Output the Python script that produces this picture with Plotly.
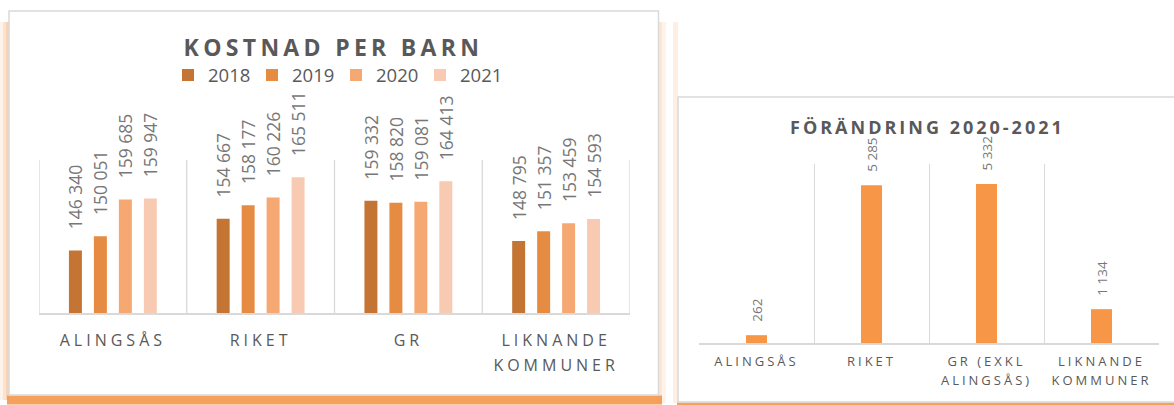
import plotly.graph_objects as go

# ---------------- data ----------------
categories = ["ALINGSÅS", "RIKET", "GR", "LIKNANDE<br>KOMMUNER"]
years = ["2018", "2019", "2020", "2021"]
v2018 = [146340, 154667, 159332, 148795]
v2019 = [150051, 158177, 158820, 151357]
v2020 = [159685, 160226, 159081, 153459]
v2021 = [159947, 165511, 164413, 154593]
series = [v2018, v2019, v2020, v2021]

change_categories = ["ALINGSÅS", "RIKET", "GR (EXKL<br>ALINGSÅS)", "LIKNANDE<br>KOMMUNER"]
change_values = [262, 5285, 5332, 1134]

title_left = "KOSTNAD PER BARN"
title_right = "FÖRÄNDRING 2020-2021"

# ---------------- styles ----------------
W, H = 1174, 405
colors = ["#C47534", "#E68C42", "#F6A873", "#F8CAB1"]
change_color = "#F79646"
grid_col = "#D9D9D9"
txt_dark = "#595959"
txt_label = "#777777"
FONT = "Open Sans"
NB = "\u00a0"


def px(x):
    return x / W


def py(y):
    return 1 - y / H


fig = go.Figure()

for name, vals, col in zip(years, series, colors):
    fig.add_trace(go.Bar(
        x=categories, y=vals, name=name,
        marker=dict(color=col, line=dict(width=0)),
        texttemplate=NB * 4 + "%{y:,}", textposition="outside", textangle=-90,
        constraintext="none", cliponaxis=True,
        textfont=dict(family=FONT, size=17.5, color=txt_label),
        xaxis="x", yaxis="y", hoverinfo="x+y+name",
    ))

fig.add_trace(go.Bar(
    x=change_categories, y=change_values, name="Förändring",
    marker=dict(color=change_color, line=dict(width=0)),
    width=0.183, offset=-0.0915,
    texttemplate=NB * 3 + "%{y:,}", textposition="outside", textangle=-90,
    constraintext="none", cliponaxis=False,
    textfont=dict(family=FONT, size=13.5, color=txt_label),
    xaxis="x2", yaxis="y2", showlegend=False,
))

# ---------------- shapes: panels, glow, gridlines ----------------
shapes = []
glow = "245,155,85"
# left panel glow
shapes.append(dict(type="rect", xref="paper", yref="paper", x0=px(7), x1=px(662), y0=py(404), y1=py(395.5),
                   fillcolor=f"rgba({glow},0.95)", line=dict(width=0), layer="below"))
shapes.append(dict(type="rect", xref="paper", yref="paper", x0=px(7), x1=px(662), y0=py(406), y1=py(404),
                   fillcolor=f"rgba({glow},0.5)", line=dict(width=0), layer="below"))
for (a, b, op) in [(6, 9, 0.45), (3, 6, 0.28), (0, 3, 0.12)]:
    shapes.append(dict(type="rect", xref="paper", yref="paper", x0=px(a), x1=px(b), y0=py(400), y1=py(22),
                       fillcolor=f"rgba({glow},{op})", line=dict(width=0), layer="below"))
for (a, b, op) in [(658, 662, 0.25), (662, 666, 0.12), (673, 678, 0.16)]:
    shapes.append(dict(type="rect", xref="paper", yref="paper", x0=px(a), x1=px(b), y0=py(403), y1=py(22),
                       fillcolor=f"rgba({glow},{op})", line=dict(width=0), layer="below"))
# right panel bottom glow
shapes.append(dict(type="rect", xref="paper", yref="paper", x0=px(677), x1=px(1180), y0=py(406), y1=py(402.5),
                   fillcolor=f"rgba({glow},0.95)", line=dict(width=0), layer="below"))
# panels
shapes.append(dict(type="rect", xref="paper", yref="paper", x0=px(9), x1=px(658.5), y0=py(395), y1=py(11),
                   fillcolor="white", line=dict(color=grid_col, width=1.5), layer="below"))
shapes.append(dict(type="rect", xref="paper", yref="paper", x0=px(678), x1=px(1180), y0=py(402), y1=py(97),
                   fillcolor="white", line=dict(color=grid_col, width=1.5), layer="below"))
# left chart category separators (gridlines)
for i in range(len(categories) + 1):
    shapes.append(dict(type="line", xref="x", yref="paper", x0=i - 0.5, x1=i - 0.5, y0=py(313), y1=py(160),
                       line=dict(color=grid_col, width=1.3), layer="below"))

fig.update_layout(
    width=W, height=H,
    margin=dict(l=0, r=0, t=0, b=0),
    paper_bgcolor="white", plot_bgcolor="rgba(0,0,0,0)",
    barmode="group", bargap=0.324, bargroupgap=0.48,
    separators=", ",
    font=dict(family=FONT, color=txt_dark),
    showlegend=True,
    legend=dict(orientation="h", x=px(336), xanchor="center", y=py(75.5), yanchor="middle",
                font=dict(family=FONT, size=18.5, color=txt_dark), bgcolor="rgba(0,0,0,0)",
                traceorder="normal", entrywidth=39, entrywidthmode="pixels"),
    shapes=shapes,
    annotations=[
        dict(text=title_left, xref="paper", yref="paper", x=px(333), y=py(46.5), xanchor="center", yanchor="middle",
             showarrow=False, font=dict(family=FONT, size=23, color=txt_dark, weight="bold")),
        dict(text=title_right, xref="paper", yref="paper", x=px(928), y=py(127), xanchor="center", yanchor="middle",
             showarrow=False, font=dict(family=FONT, size=18, color=txt_dark, weight="bold")),
    ],
    xaxis=dict(domain=[px(39), px(630)], anchor="y", range=[-0.5, 3.5], showgrid=False, zeroline=False,
               showline=True, linecolor=grid_col, linewidth=1.5, ticks="", ticklabelstandoff=12,
               tickfont=dict(family=FONT, size=16, color=txt_dark), fixedrange=True),
    yaxis=dict(domain=[py(313), py(83.5)], anchor="x", range=[130000, 190000], visible=False, fixedrange=True),
    xaxis2=dict(domain=[px(699), px(1159)], anchor="y2", range=[-0.5, 3.5], tickson="boundaries",
                showgrid=True, gridcolor=grid_col, gridwidth=1.3, zeroline=False,
                showline=True, linecolor=grid_col, linewidth=1.5, ticks="", ticklabelstandoff=6,
                tickfont=dict(family=FONT, size=13, color=txt_dark), fixedrange=True),
    yaxis2=dict(domain=[py(343), py(164)], anchor="x2", range=[0, 6000], visible=False, fixedrange=True),
)

post_js = """
var st = document.createElement('style');
st.textContent = 'html,body{margin:0;padding:0;overflow:hidden}' +
  '.xtick text{letter-spacing:4px}' +
  '.x2tick text{letter-spacing:3px}' +
  'g.annotation[data-index="0"] text{letter-spacing:4.3px}' +
  'g.annotation[data-index="1"] text{letter-spacing:3px}';
document.head.appendChild(st);
function fixLines(sel, em){
  document.querySelectorAll(sel).forEach(function(t){
    var d = parseFloat(t.getAttribute('dy'));
    if (d > 0) { t.setAttribute('dy', (d / 1.3 * em) + 'em'); }
  });
}
fixLines('.xtick tspan.line', 1.56);
fixLines('.x2tick tspan.line', 1.46);
"""

fig.write_html("out.html", post_script=post_js, config={"displayModeBar": False})
